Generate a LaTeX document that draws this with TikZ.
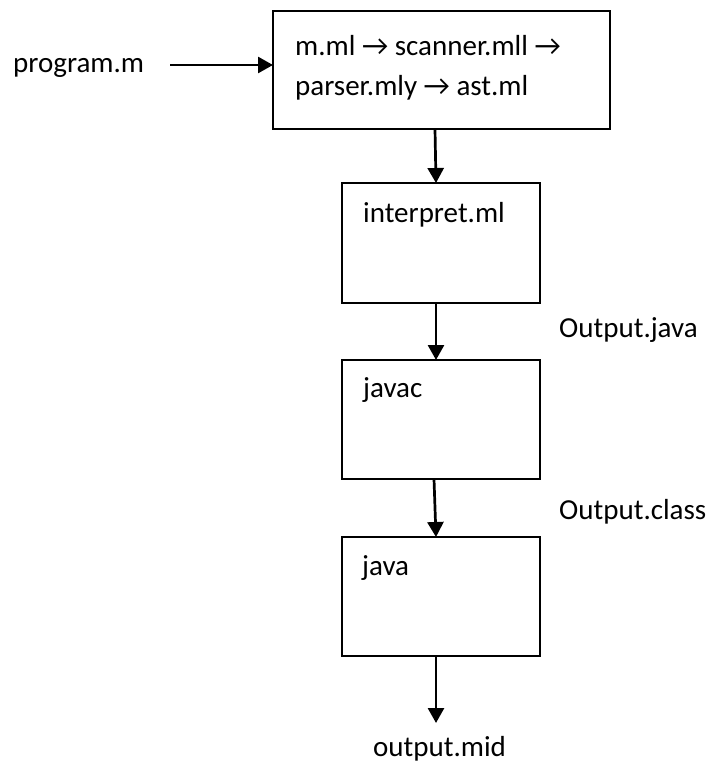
\documentclass[tikz,border=0pt]{standalone}
\usepackage{fontspec}
\setmainfont{Carlito}
\usetikzlibrary{arrows.meta}
\begin{document}
\begin{tikzpicture}[x=1pt,y=-1pt,
  box/.style={draw=black,line width=2.7pt,fill=none},
  lbl/.style={anchor=base west,inner sep=0pt,font=\fontsize{29}{40}\selectfont},
  conn/.style={line width=2.7pt,-{Triangle[length=15pt,width=16pt]}}]
\useasboundingbox (0,0) rectangle (711,763);
\fill[white] (0,0) rectangle (711,763);
% boxes
\draw[box] (273,11) rectangle (610,129);
\coordinate (topS) at (435,129);
\draw[box] (342,183) rectangle (540,303);
\coordinate (intN) at (436,183);
\coordinate (intS) at (436,303);
\draw[box] (342,360) rectangle (540,479);
\coordinate (javacN) at (436,360);
\coordinate (javacS) at (434,479);
\draw[box] (342,537) rectangle (540,656);
\coordinate (javaN) at (436,537);
\coordinate (javaS) at (436,656);
\coordinate (endpt) at (436,723);
\coordinate (progE) at (170,65);
\coordinate (topW) at (273,65);
% texts
\node[lbl] (prog) at (13,72) {program.m};
\node[lbl] (l1) at (295,55) {m.ml → scanner.mll →};
\node[lbl] (l2) at (295,95) {parser.mly → ast.ml};
\node[lbl] (interp) at (363,222) {interpret.ml};
\node[lbl] (ojava) at (559,337) {Output.java};
\node[lbl] (javac) at (363,397) {javac};
\node[lbl] (oclass) at (559,519) {Output.class};
\node[lbl] (java) at (362,575) {java};
\node[lbl] (omid) at (373,756) {output.mid};
% connectors
\draw[conn] (progE) -- (topW);
\draw[conn] (topS) -- (intN);
\draw[conn] (intS) -- (javacN);
\draw[conn] (javacS) -- (javaN);
\draw[conn] (javaS) -- (endpt);
\end{tikzpicture}
\end{document}
